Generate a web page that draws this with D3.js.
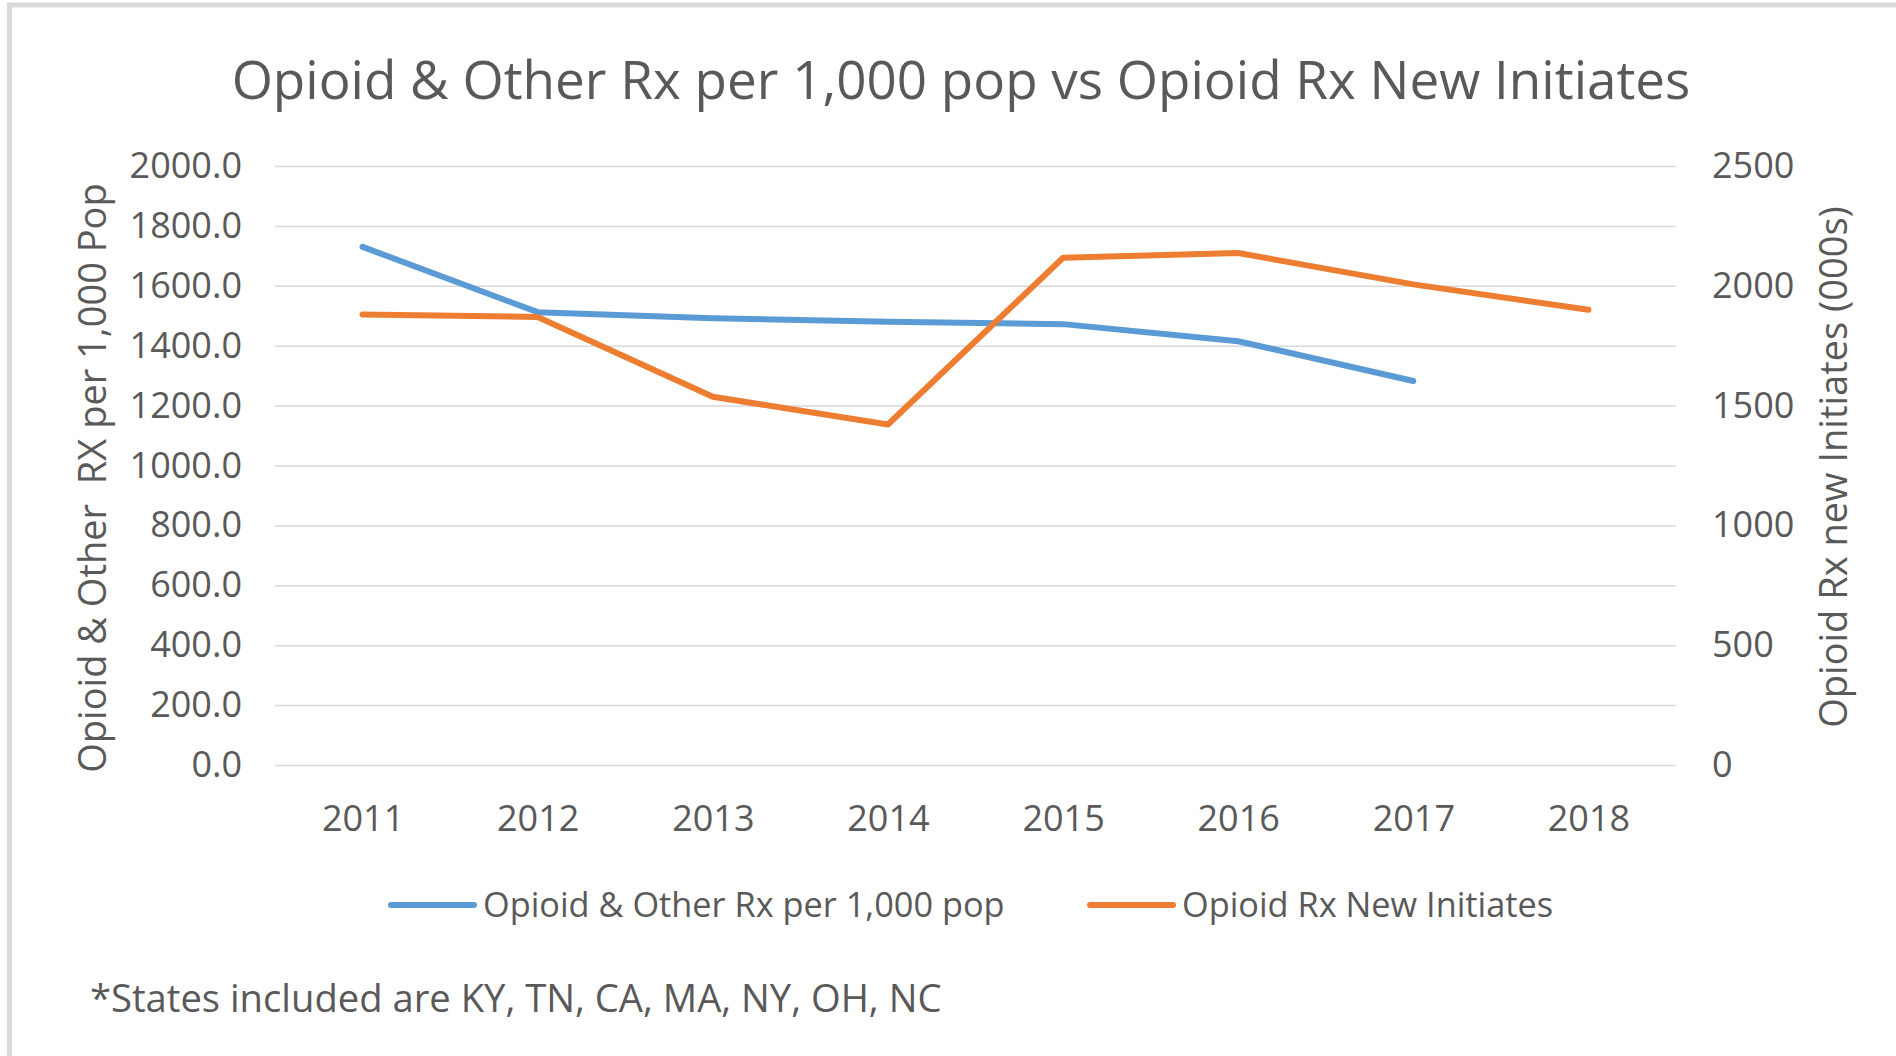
<!DOCTYPE html>
<html>
<head>
<meta charset="utf-8">
<script src="https://cdn.jsdelivr.net/npm/d3@7"></script>
<style>
  body { margin: 0; background: #fff; }
  text { font-family: "Open Sans", "Noto Sans", sans-serif; fill: #595959; }
</style>
</head>
<body>
<script>
var years = ["2011", "2012", "2013", "2014", "2015", "2016", "2017", "2018"];
var rxPer1000 = [1730, 1512, 1492, 1480, 1472, 1415, 1282, null];
var newInitiates = [1880, 1870, 1537, 1421, 2117, 2137, 2006, 1900];
var leftTicks = [0, 200, 400, 600, 800, 1000, 1200, 1400, 1600, 1800, 2000];
var rightTicks = [0, 500, 1000, 1500, 2000, 2500];

var width = 1896, height = 1056;
var margin = {top: 166, right: 220, bottom: 291, left: 275};
var blue = "#5B9BD5", orange = "#ED7D31";

var svg = d3.select("body").append("svg")
    .attr("width", width)
    .attr("height", height);

// outer border (top + left only visible)
svg.append("line").attr("x1", 7).attr("x2", width).attr("y1", 5).attr("y2", 5)
    .attr("stroke", "#D9D9D9").attr("stroke-width", 5);
svg.append("line").attr("x1", 9.5).attr("x2", 9.5).attr("y1", 3).attr("y2", height)
    .attr("stroke", "#D9D9D9").attr("stroke-width", 5);

var x = d3.scalePoint()
    .domain(years)
    .range([margin.left, width - margin.right])
    .padding(0.5);

var yLeft = d3.scaleLinear()
    .domain([0, 2000])
    .range([height - margin.bottom, margin.top]);

var yRight = d3.scaleLinear()
    .domain([0, 2500])
    .range([height - margin.bottom, margin.top]);

// gridlines
svg.append("g").selectAll("line")
    .data(leftTicks)
  .enter().append("line")
    .attr("x1", margin.left)
    .attr("x2", width - margin.right)
    .attr("y1", function(d) { return yLeft(d) + 0.5; })
    .attr("y2", function(d) { return yLeft(d) + 0.5; })
    .attr("stroke", "#D9D9D9")
    .attr("stroke-width", 1.5);

// left axis
var leftAxis = svg.append("g")
    .attr("transform", "translate(" + (margin.left - 33) + ",0)")
    .call(d3.axisLeft(yLeft).tickValues(leftTicks).tickFormat(d3.format(".1f")).tickSize(0).tickPadding(0));
leftAxis.select(".domain").remove();
leftAxis.selectAll("text").style("font-size", "36px").style("fill", "#595959");

// right axis
var rightAxis = svg.append("g")
    .attr("transform", "translate(" + (width - margin.right + 36) + ",0)")
    .call(d3.axisRight(yRight).tickValues(rightTicks).tickFormat(d3.format("d")).tickSize(0).tickPadding(0));
rightAxis.select(".domain").remove();
rightAxis.selectAll("text").style("font-size", "36px").style("fill", "#595959");

// x axis
var xAxis = svg.append("g")
    .attr("transform", "translate(0," + (height - margin.bottom + 40) + ")")
    .call(d3.axisBottom(x).tickSize(0).tickPadding(0));
xAxis.select(".domain").remove();
xAxis.selectAll("text").style("font-size", "36px").style("fill", "#595959");

// lines
var blueLine = d3.line()
    .defined(function(d) { return d != null; })
    .x(function(d, i) { return x(years[i]); })
    .y(function(d) { return yLeft(d); });

var orangeLine = d3.line()
    .x(function(d, i) { return x(years[i]); })
    .y(function(d) { return yRight(d); });

svg.append("path")
    .datum(rxPer1000)
    .attr("d", blueLine)
    .attr("fill", "none")
    .attr("stroke", blue)
    .attr("stroke-width", 6)
    .attr("stroke-linecap", "round")
    .attr("stroke-linejoin", "round");

svg.append("path")
    .datum(newInitiates)
    .attr("d", orangeLine)
    .attr("fill", "none")
    .attr("stroke", orange)
    .attr("stroke-width", 6)
    .attr("stroke-linecap", "round")
    .attr("stroke-linejoin", "round");

// title
svg.append("text")
    .attr("x", 961)
    .attr("y", 99)
    .attr("text-anchor", "middle")
    .style("font-size", "53px")
    .text("Opioid & Other Rx per 1,000 pop vs Opioid Rx New Initiates");

// axis titles
svg.append("text")
    .attr("transform", "translate(106,478) rotate(-90)")
    .attr("text-anchor", "middle")
    .style("font-size", "38px")
    .style("white-space", "pre")
    .text("Opioid & Other  RX per 1,000 Pop");

svg.append("text")
    .attr("transform", "translate(1847,467) rotate(-90)")
    .attr("text-anchor", "middle")
    .style("font-size", "38px")
    .text("Opioid Rx new Initiates (000s)");

// legend
var legendItems = [
  {name: "Opioid & Other Rx per 1,000 pop", color: blue, x: 391},
  {name: "Opioid Rx New Initiates", color: orange, x: 1090}
];
var legend = svg.append("g").selectAll("g")
    .data(legendItems)
  .enter().append("g")
    .attr("transform", function(d) { return "translate(" + d.x + ",905)"; });
legend.append("line")
    .attr("x1", 0).attr("x2", 83)
    .attr("stroke", function(d) { return d.color; })
    .attr("stroke-width", 6)
    .attr("stroke-linecap", "round");
legend.append("text")
    .attr("x", 92)
    .attr("dy", "0.35em")
    .style("font-size", "34.3px")
    .text(function(d) { return d.name; });

// footnote
svg.append("text")
    .attr("x", 90)
    .attr("y", 999)
    .attr("dy", "0.35em")
    .style("font-size", "38.2px")
    .text("*States included are KY, TN, CA, MA, NY, OH, NC");
</script>
</body>
</html>
